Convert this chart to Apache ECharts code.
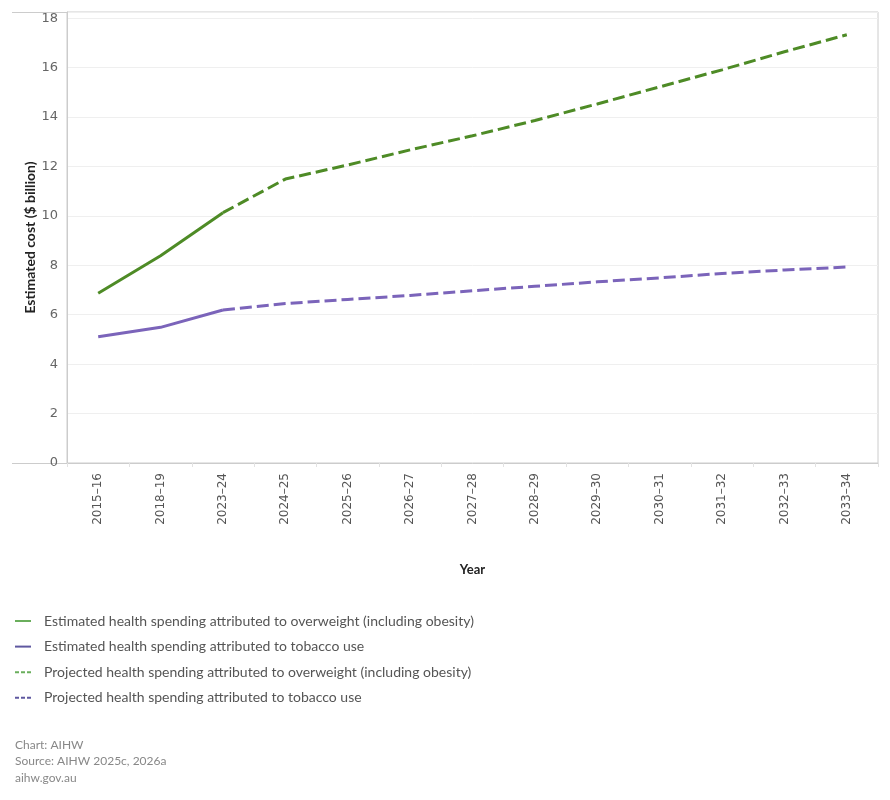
<!DOCTYPE html>
<html>
<head>
<meta charset="utf-8">
<title>Estimated health spending</title>
<script src="https://cdn.jsdelivr.net/npm/echarts@6/dist/echarts.min.js"></script>
<style>
  html, body { margin: 0; padding: 0; background: #fff; }
  #chart { width: 890px; height: 800px; }
</style>
</head>
<body>
<div id="chart"></div>
<script>
// categories (financial years)
const years = ['2015–16', '2018–19', '2023–24', '2024–25', '2025–26', '2026–27', '2027–28',
  '2028–29', '2029–30', '2030–31', '2031–32', '2032–33', '2033–34'];

// estimated values, 2015–16 to 2023–24
const overweightEst = [6.87, 8.39, 10.13];
const tobaccoEst = [5.11, 5.49, 6.19];

// projected values, 2023–24 to 2033–34
const overweightProj = [10.13, 11.49, 12.06, 12.67, 13.24, 13.86, 14.53, 15.22, 15.91, 16.64, 17.33];
const tobaccoProj = [6.19, 6.45, 6.62, 6.78, 6.97, 7.15, 7.33, 7.49, 7.67, 7.81, 7.93];

const yTicks = [0, 2, 4, 6, 8, 10, 12, 14, 16, 18];

const names = [
  'Estimated health spending attributed to overweight (including obesity)',
  'Estimated health spending attributed to tobacco use',
  'Projected health spending attributed to overweight (including obesity)',
  'Projected health spending attributed to tobacco use'
];

const green = '#4e8b26';
const purple = '#7b64ba';
const legendGreen = '#6aae5c';
const legendPurple = '#5f58a0';
const font = 'Lato, "Noto Sans", sans-serif';

// legend icons: a short solid bar and a three-dash bar
const solidIcon = 'path://M0,0H16V2H0Z';
const dashIcon = 'path://M0,0H4V2H0Z M6,0H10V2H6Z M12,0H16V2H12Z';

// pad the arrays onto the full category axis
function padEst(arr) {
  return years.map((y, i) => (i < arr.length ? arr[i] : null));
}
function padProj(arr) {
  const start = years.length - arr.length;
  return years.map((y, i) => (i >= start ? arr[i - start] : null));
}

function lineSeries(name, data, color, legendColor, dashed) {
  return {
    name: name,
    type: 'line',
    data: data,
    symbol: 'none',
    connectNulls: false,
    color: legendColor,
    lineStyle: {
      color: color,
      width: 3,
      type: dashed ? [12, 5] : 'solid'
    },
    itemStyle: { color: legendColor },
    emphasis: { disabled: true }
  };
}

const chart = echarts.init(document.getElementById('chart'));

const option = {
  animation: false,
  textStyle: { fontFamily: font },
  grid: {
    left: 67,
    right: 12,
    top: 12,
    bottom: 337,
    show: true,
    borderColor: '#cccccc',
    borderWidth: 1
  },
  xAxis: {
    type: 'category',
    data: years,
    boundaryGap: true,
    name: 'Year',
    nameLocation: 'middle',
    nameGap: 100,
    nameTextStyle: { fontWeight: 'bold', fontSize: 13, color: '#222' },
    axisLine: { lineStyle: { color: '#cccccc' } },
    axisTick: { show: true, length: 4, lineStyle: { color: '#e2e2e2' } },
    axisLabel: {
      rotate: 90,
      interval: 0,
      margin: 10,
      fontSize: 12,
      color: '#555',
      fontFamily: '"DejaVu Sans", sans-serif'
    },
    splitLine: { show: false }
  },
  yAxis: {
    type: 'value',
    min: 0,
    max: 18.25,
    interval: 2,
    name: 'Estimated cost ($ billion)',
    nameLocation: 'middle',
    nameGap: 30,
    nameMoveOverlap: false,
    nameTextStyle: { fontWeight: 'bold', fontSize: 14, color: '#222' },
    axisLine: { show: true, lineStyle: { color: '#cccccc' } },
    axisTick: { show: false },
    axisLabel: {
      showMaxLabel: false,
      margin: 9,
      fontSize: 13,
      color: '#666',
      fontFamily: '"DejaVu Sans", sans-serif',
      formatter: v => (yTicks.indexOf(v) >= 0 ? String(v) : '')
    },
    splitLine: { lineStyle: { color: '#efefef' } }
  },
  legend: {
    orient: 'vertical',
    left: 15,
    top: 614,
    padding: 0,
    itemWidth: 16,
    itemHeight: 14,
    itemGap: 11.6,
    symbolKeepAspect: true,
    selectedMode: false,
    textStyle: { fontSize: 14, color: '#555', fontFamily: font, padding: [0, 0, 0, 8] },
    data: [
      { name: names[0], icon: solidIcon, itemStyle: { color: legendGreen } },
      { name: names[1], icon: solidIcon, itemStyle: { color: legendPurple } },
      { name: names[2], icon: dashIcon, itemStyle: { color: legendGreen } },
      { name: names[3], icon: dashIcon, itemStyle: { color: legendPurple } }
    ]
  },
  graphic: [
    // Tableau style header/footer rules extending left of the plot
    { type: 'line', shape: { x1: 12, y1: 12.5, x2: 67, y2: 12.5 }, style: { stroke: '#cccccc', lineWidth: 1 } },
    { type: 'line', shape: { x1: 12, y1: 463.5, x2: 67, y2: 463.5 }, style: { stroke: '#cccccc', lineWidth: 1 } },
    { type: 'text', left: 15, top: 739, style: { text: 'Chart: AIHW', fill: '#888', fontSize: 12, fontFamily: font } },
    { type: 'text', left: 15, top: 755, style: { text: 'Source: AIHW 2025c, 2026a', fill: '#888', fontSize: 12, fontFamily: font } },
    { type: 'text', left: 15, top: 772, style: { text: 'aihw.gov.au', fill: '#888', fontSize: 12, fontFamily: font } }
  ],
  series: [
    lineSeries(names[1], padEst(tobaccoEst), purple, legendPurple, false),
    lineSeries(names[3], padProj(tobaccoProj), purple, legendPurple, true),
    lineSeries(names[0], padEst(overweightEst), green, legendGreen, false),
    lineSeries(names[2], padProj(overweightProj), green, legendGreen, true)
  ]
};

chart.setOption(option);
</script>
</body>
</html>
